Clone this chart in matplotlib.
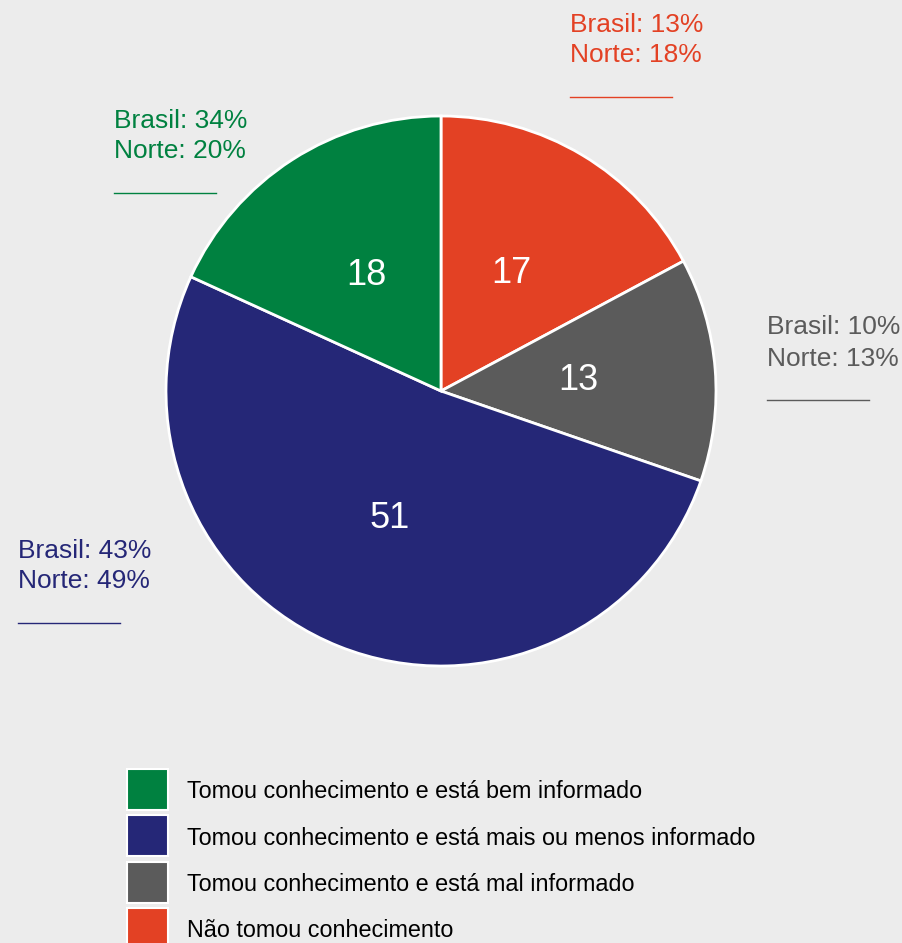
import matplotlib.pyplot as plt
from matplotlib.patches import Rectangle
from matplotlib.lines import Line2D

plt.rcParams['font.family'] = ['Liberation Sans', 'DejaVu Sans']

# data (clockwise from top)
categories = ["Não tomou conhecimento",
              "Tomou conhecimento e está mal informado",
              "Tomou conhecimento e está mais ou menos informado",
              "Tomou conhecimento e está bem informado"]
values = [17, 13, 51, 18]
colors = ["#e34124", "#5b5b5b", "#252777", "#008140"]
brasil = [13, 10, 43, 34]
norte = [18, 13, 49, 20]

# legend order as in the picture
legend_order = [3, 2, 1, 0]

W, H = 903, 943
bg = "#ececec"
fig = plt.figure(figsize=(W / 100, H / 100), dpi=100, facecolor=bg)

# pie centre (441, 391) px, radius 275 px
cx, cy, r = 441, 391, 275
lim = 1.01
ax = fig.add_axes([(cx - r * lim) / W, 1 - (cy + r * lim) / H, 2 * r * lim / W, 2 * r * lim / H])
ax.set_facecolor(bg)
wedges, texts = ax.pie(values, colors=colors, startangle=90, counterclock=False,
                       labels=[str(v) for v in values], labeldistance=0.5,
                       wedgeprops=dict(edgecolor="white", linewidth=2),
                       textprops=dict(color="white", fontsize=26, ha="center", va="center"))
ax.set_xlim(-lim, lim)
ax.set_ylim(-lim, lim)
ax.set_aspect("equal")
ax.axis("off")

# outside annotations: left x / centre y of first line for each slice
label_pos = [(570, 22), (767, 325), (18, 548), (114, 118)]
for i, (x, y) in enumerate(label_pos):
    c = colors[i]
    fig.text(x / W, 1 - y / H, "Brasil: %d%%" % brasil[i], color=c, fontsize=19,
             ha="left", va="center_baseline")
    fig.text(x / W, 1 - (y + 31) / H, "Norte: %d%%" % norte[i], color=c, fontsize=19,
             ha="left", va="center_baseline")
    yl = 1 - (y + 75) / H
    fig.add_artist(Line2D([x / W, (x + 102) / W], [yl, yl], color=c, linewidth=1,
                          transform=fig.transFigure))

# legend drawn by hand: squares 41px, rows 46.3px apart
sq = 41
for k, i in enumerate(legend_order):
    top = 769 + k * 46.3
    fig.add_artist(Rectangle((127 / W, 1 - (top + sq) / H), sq / W, sq / H,
                             facecolor=colors[i], edgecolor="white", linewidth=1.5,
                             transform=fig.transFigure))
    fig.text(187 / W, 1 - (top + sq / 2) / H, categories[i], color="black",
             fontsize=16.8, ha="left", va="center_baseline")

fig.savefig("out.png", dpi=100, facecolor=bg)
